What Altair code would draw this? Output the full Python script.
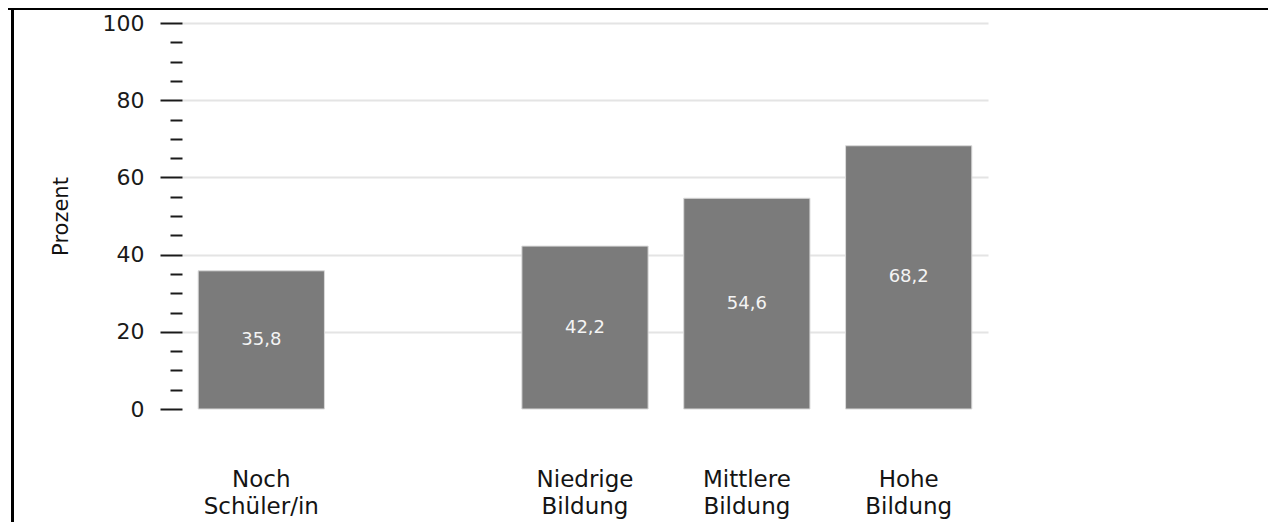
import altair as alt
import pandas as pd

# categories on the x axis ("|" marks a line break); " " is the empty slot
x_domain = ["Noch|Schüler/in", " ", "Niedrige|Bildung", "Mittlere|Bildung", "Hohe|Bildung"]
bar_categories = ["Noch|Schüler/in", "Niedrige|Bildung", "Mittlere|Bildung", "Hohe|Bildung"]
bar_values = [35.8, 42.2, 54.6, 68.2]
y_tick_values = list(range(0, 101, 5))

df = pd.DataFrame({"cat": bar_categories, "v": bar_values})

x_scale = alt.Scale(domain=x_domain, paddingInner=0.22, paddingOuter=0.1)
y_scale = alt.Scale(domain=[0, 100])

x_axis = alt.Axis(
    title=None,
    labelExpr="split(datum.label, '|')",
    labelAngle=0,
    labelFont="DejaVu Sans",
    labelFontSize=23,
    labelColor="#141414",
    labelLineHeight=27,
    labelPadding=59,
    labelBaseline="top",
    ticks=False,
    domain=False,
    grid=False,
)

y_axis = alt.Axis(
    title="Prozent",
    titleFont="DejaVu Sans",
    titleFontSize=21,
    titleFontWeight="normal",
    titleColor="#111111",
    titleX=-115,
    titleY=193,
    titleAngle=-90,
    titleBaseline="alphabetic",
    titleAlign="center",
    values=y_tick_values,
    labelExpr="datum.value % 20 === 0 ? datum.label : ''",
    labelFont="DejaVu Sans",
    labelFontSize=22,
    labelFontWeight="normal",
    labelColor="#1a1a1a",
    labelPadding=16,
    tickSize={"condition": {"test": "datum.value % 20 === 0", "value": 22}, "value": 12},
    tickWidth=2,
    tickColor="#1a1a1a",
    domain=False,
    grid=True,
    gridColor="#e4e4e4",
    gridWidth=2,
    gridOpacity={"condition": {"test": "datum.value % 20 === 0 && datum.value > 0", "value": 1}, "value": 0},
)

base = alt.Chart(df).transform_calculate(
    mid="datum.v / 2",
    lbl="replace(format(datum.v, '.1f'), '.', ',')",
)

bars = base.mark_bar(color="#7b7b7b", stroke="#dadada", strokeWidth=1).encode(
    x=alt.X("cat:N", scale=x_scale, axis=x_axis, sort=x_domain),
    y=alt.Y("v:Q", scale=y_scale, axis=y_axis),
)

labels = base.mark_text(
    font="DejaVu Sans", fontSize=18, color="#f4f4f4", baseline="middle", align="center"
).encode(
    x=alt.X("cat:N", scale=x_scale, axis=x_axis, sort=x_domain),
    y=alt.Y("mid:Q", scale=y_scale, axis=y_axis),
    text="lbl:N",
)

frame_top = alt.Chart(alt.Data(values=[{"a": 1}])).mark_rule(color="#000000", strokeWidth=3).encode(
    x=alt.value(-200), x2=alt.value(1200), y=alt.value(-14.5)
)
frame_left = alt.Chart(alt.Data(values=[{"a": 1}])).mark_rule(color="#000000", strokeWidth=3).encode(
    x=alt.value(-169.5), y=alt.value(-20), y2=alt.value(520)
)

chart = alt.layer(bars, labels, frame_top, frame_left).properties(
    width=806,
    height=386,
    background="white",
    autosize=alt.AutoSizeParams(type="none"),
    padding={"left": 174, "top": 15, "right": 280, "bottom": 113},
).configure_view(stroke=None)

chart.save("out.html", embed_options={"renderer": "svg", "actions": False})
